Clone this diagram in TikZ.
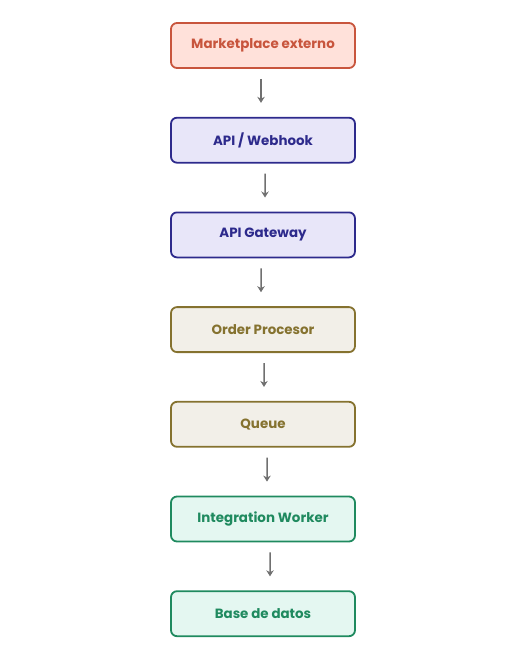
\documentclass[tikz,border=0pt]{standalone}
\usepackage{fontspec}
\setmainfont{Poppins}
\usetikzlibrary{arrows.meta}

\definecolor{extfill}{HTML}{FFE1DA}
\definecolor{extline}{HTML}{C8553D}
\definecolor{apifill}{HTML}{E8E6F9}
\definecolor{apiline}{HTML}{2D2A8C}
\definecolor{procfill}{HTML}{F2EFE8}
\definecolor{procline}{HTML}{85722F}
\definecolor{workfill}{HTML}{E4F7F1}
\definecolor{workline}{HTML}{1F8A5F}
\definecolor{arrowgray}{HTML}{707070}

\begin{document}
\begin{tikzpicture}
[
    x=1pt, y=1pt,
    level distance=94.7pt,
    arrdx/.store in=\arrdx, arrdx=0pt,
    edge from parent/.style={draw=arrowgray, line width=1.5pt, -{Stealth[length=6pt,width=7.5pt]}},
    edge from parent path={([xshift=\arrdx,yshift=-10pt]\tikzparentnode.south) -- ([xshift=\arrdx,yshift=14pt]\tikzchildnode.north)},
    every node/.style={draw,line width=1.8pt,rounded corners=6pt,minimum width=184pt,minimum height=45pt,align=center,font=\bfseries\fontsize{13.4}{16}\selectfont},
    ext/.style={fill=extfill,draw=extline,text=extline},
    api/.style={fill=apifill,draw=apiline,text=apiline},
    proc/.style={fill=procfill,draw=procline,text=procline},
    work/.style={fill=workfill,draw=workline,text=workline}
  ]
  \useasboundingbox (0,0) rectangle (525,-657);

  \node[ext] (market) at (263,-45.5) {Marketplace externo}
    child[arrdx=-2pt] { node[api] (webhook) {API / Webhook}
      child[arrdx=2pt] { node[api] (gateway) {API Gateway}
        child[arrdx=-2pt] { node[proc] (procesor) {Order Procesor}
          child[arrdx=1pt] { node[proc] (queue) {Queue}
            child[arrdx=4pt] { node[work] (worker) {Integration Worker}
              child[arrdx=7pt] { node[work] (db) {Base de datos}}
            }
          }
        }
      }
    };
\end{tikzpicture}
\end{document}
